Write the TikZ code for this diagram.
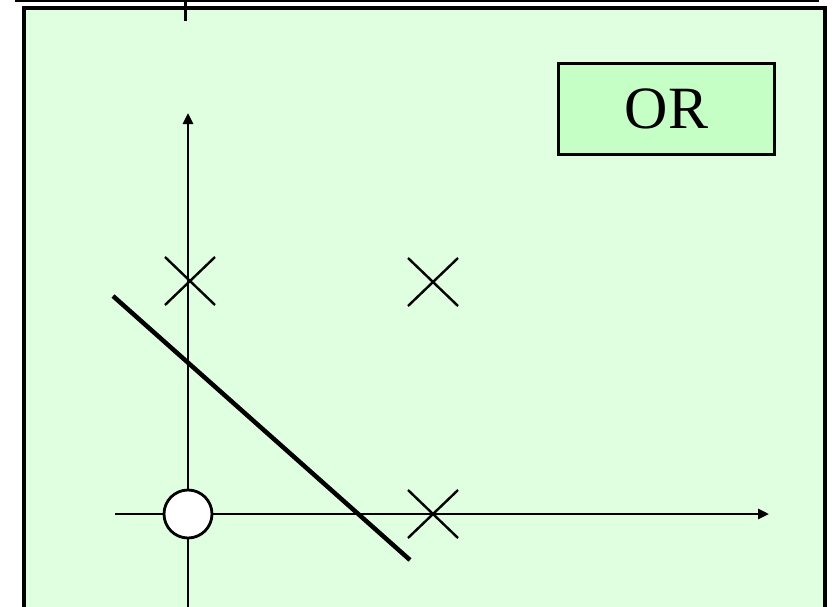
\documentclass[tikz,border=0pt]{standalone}
\usepackage{fontspec}
\setmainfont{Liberation Serif}
\usetikzlibrary{arrows.meta,calc}
\definecolor{bgreen}{HTML}{E0FFE0}
\definecolor{boxgreen}{HTML}{C6FFC6}
\tikzset{
  axis/.style={line width=2.6pt, -{Triangle[length=11pt,width=10pt]}},
  xmark/.style={line width=2.4pt},
  frame/.style={line width=4pt, fill=bgreen},
  orbox/.style={draw, line width=3.2pt, fill=boxgreen, minimum width=216pt, minimum height=91pt, inner sep=0pt, font=\fontsize{60}{60}\selectfont},
}
\begin{document}
\begin{tikzpicture}[x=1pt,y=-1pt]
\useasboundingbox (0,0) rectangle (833,606);
\begin{scope}
\clip (0,0) rectangle (833,606);
\draw[line width=2.4pt] (15,1) -- (819,1);
\draw[frame] (24,7.5) rectangle (825,640);
\draw[line width=3pt] (185,0) -- (185,21);
\node[orbox] (or) at (666.5,109) {OR};
\coordinate (ybot) at (188,620);
\coordinate (ytop) at (188,113);
\coordinate (xl) at (115,514);
\coordinate (xr) at (769,514);
\draw[axis] (ybot) -- (ytop);
\draw[axis] (xl) -- (xr);
\draw[line width=4.5pt] (113,296) -- (410,560);
\foreach \n/\cx/\cy in {a/190/281, b/433/282, c/433/514}{
  \coordinate (\n) at (\cx,\cy);
  \draw[xmark] ($(\n)+(-25,-24)$) -- ($(\n)+(25,24)$);
  \draw[xmark] ($(\n)+(-25,24)$) -- ($(\n)+(25,-24)$);
}
\node[circle, draw, line width=2.8pt, fill=white, minimum size=48pt, inner sep=0pt] (o) at (188,514) {};
\end{scope}
\end{tikzpicture}
\end{document}
